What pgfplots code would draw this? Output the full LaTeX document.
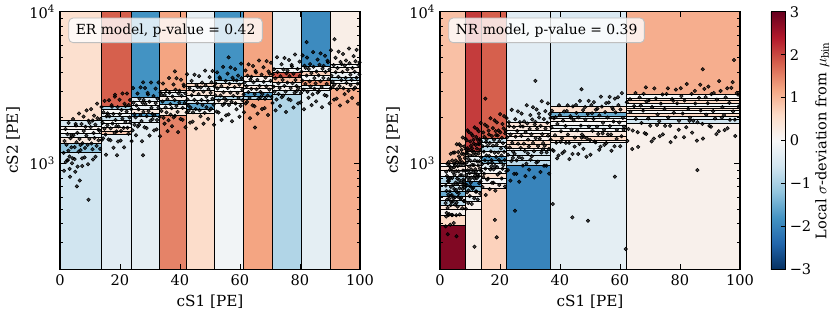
\documentclass[border=0pt]{standalone}
\usepackage{fontspec}
\setmainfont{DejaVu Serif}
\usepackage{pgfplots}
\usepackage{pgfplotstable}
\pgfplotsset{compat=1.18}

\pgfplotsset{
 colormap={rdbu}{rgb255=(5,48,97) rgb255=(33,102,172) rgb255=(67,147,195) rgb255=(146,197,222) rgb255=(209,229,240) rgb255=(247,247,247) rgb255=(253,219,199) rgb255=(244,165,130) rgb255=(214,96,77) rgb255=(178,24,43) rgb255=(103,0,31)},
 binrect/.style={patch, patch type=rectangle, shader=faceted, faceted color=black, line width=0.5pt, point meta=explicit, forget plot},
 pts/.style={only marks, mark=*, mark size=1.25pt, mark options={draw=none, fill=black, fill opacity=0.7}, forget plot},
}

\newcommand\drawrects[1]{%
 \pgfplotstablegetrowsof{#1}%
 \pgfmathtruncatemacro\nrows{\pgfplotsretval-1}%
 \pgfplotsforeachungrouped \i in {0,...,\nrows}{%
   \pgfplotstablegetelem{\i}{x0}\of#1\let\xa\pgfplotsretval
   \pgfplotstablegetelem{\i}{x1}\of#1\let\xb\pgfplotsretval
   \pgfplotstablegetelem{\i}{y0}\of#1\let\ya\pgfplotsretval
   \pgfplotstablegetelem{\i}{y1}\of#1\let\yb\pgfplotsretval
   \pgfplotstablegetelem{\i}{c}\of#1\let\cc\pgfplotsretval
   \edef\temp{\noexpand\addplot[binrect] coordinates {(\xa,\ya) [\cc] (\xb,\ya) [\cc] (\xb,\yb) [\cc] (\xa,\yb) [\cc]};}%
   \temp
 }%
}

% ER bins: x0 x1 y0 y1 deviation
\pgfplotstableread{
x0 x1 y0 y1 c
0 13.7 200 1182 -0.6
0 13.7 1182 1355 -1.2
0 13.7 1355 1484 0.3
0 13.7 1484 1577 -0.3
0 13.7 1577 1684 0.0
0 13.7 1684 1762 0.1
0 13.7 1762 1910 -0.5
0 13.7 1910 10000 0.5
13.7 23.7 200 1553 -0.35
13.7 23.7 1553 1634 0.8
13.7 23.7 1634 1717 0.4
13.7 23.7 1717 1836 -0.1
13.7 23.7 1836 1930 0.0
13.7 23.7 1930 2030 -0.7
13.7 23.7 2030 2137 -0.2
13.7 23.7 2137 2281 0.0
13.7 23.7 2281 2363 -1.0
13.7 23.7 2363 10000 1.8
23.7 33.2 200 1873 -0.3
23.7 33.2 1873 2030 -0.4
23.7 33.2 2030 2137 -1.7
23.7 33.2 2137 2281 0.3
23.7 33.2 2281 2424 -0.2
23.7 33.2 2424 2549 0.0
23.7 33.2 2549 2709 -0.4
23.7 33.2 2709 10000 -1.8
33.2 42.2 200 2083 1.5
33.2 42.2 2083 2306 0.3
33.2 42.2 2306 2462 -0.1
33.2 42.2 2462 2588 -1.6
33.2 42.2 2588 2750 0.2
33.2 42.2 2750 2922 -0.2
33.2 42.2 2922 3045 0.1
33.2 42.2 3045 10000 1.2
42.2 51.6 200 2137 0.55
42.2 51.6 2137 2271 0.0
42.2 51.6 2271 2488 -1.6
42.2 51.6 2488 2616 -0.5
42.2 51.6 2616 2822 0.0
42.2 51.6 2822 3045 0.4
42.2 51.6 3045 3201 -0.1
42.2 51.6 3201 3371 0.6
42.2 51.6 3371 10000 -0.25
51.6 61.1 200 2488 -0.1
51.6 61.1 2488 2644 0.2
51.6 61.1 2644 2750 -0.9
51.6 61.1 2750 2967 0.4
51.6 61.1 2967 3172 0.0
51.6 61.1 3172 3371 0.5
51.6 61.1 3371 3544 -0.5
51.6 61.1 3544 10000 -1.8
61.1 70.8 200 2644 1.2
61.1 70.8 2644 2750 -0.9
61.1 70.8 2750 2922 -1.7
61.1 70.8 2922 3124 0.0
61.1 70.8 3124 3285 0.3
61.1 70.8 3285 3453 -0.2
61.1 70.8 3453 3727 0.1
61.1 70.8 3727 10000 1.2
70.8 80.4 200 2865 -0.9
70.8 80.4 2865 3045 -0.5
70.8 80.4 3045 3236 0.1
70.8 80.4 3236 3438 -0.1
70.8 80.4 3438 3710 0.9
70.8 80.4 3710 4002 1.9
70.8 80.4 4002 4252 0.0
70.8 80.4 4252 10000 -0.3
80.4 90 200 3013 -0.3
80.4 90 3013 3124 0.0
80.4 90 3124 3285 -0.3
80.4 90 3285 3544 1.3
80.4 90 3544 3823 0.0
80.4 90 3823 4020 0.7
80.4 90 4020 4337 -0.1
80.4 90 4337 10000 -1.9
90 100 200 3124 1.1
90 100 3124 3386 0.3
90 100 3386 3544 -0.1
90 100 3544 3710 -0.9
90 100 3710 4002 -0.2
90 100 4002 4318 0.2
90 100 4318 4519 0.0
90 100 4519 10000 0.2
}\rectsER

% NR bins: x0 x1 y0 y1 deviation
\pgfplotstableread{
x0 x1 y0 y1 c
0 8.6 200 392 2.8
0 8.6 392 456 0.6
0 8.6 456 497 0.1
0 8.6 497 531 0.4
0 8.6 531 573 -0.8
0 8.6 573 602 0.0
0 8.6 602 650 -1.5
0 8.6 650 719 -0.7
0 8.6 719 738 0.0
0 8.6 738 816 -0.9
0 8.6 816 894 0.0
0 8.6 894 960 0.3
0 8.6 960 1003 0.0
0 8.6 1003 10000 0.9
8.6 13.9 200 497 0.2
8.6 13.9 497 558 0.1
8.6 13.9 558 602 -0.3
8.6 13.9 602 650 0.2
8.6 13.9 650 701 -1.2
8.6 13.9 701 756 -1.9
8.6 13.9 756 816 -0.5
8.6 13.9 816 859 0.0
8.6 13.9 859 903 -0.3
8.6 13.9 903 975 0.3
8.6 13.9 975 1025 0.0
8.6 13.9 1025 1105 -0.2
8.6 13.9 1105 1200 0.5
8.6 13.9 1200 10000 2.1
13.9 22 200 684 0.7
13.9 22 684 738 0.2
13.9 22 738 796 0.0
13.9 22 796 859 0.5
13.9 22 859 927 0.0
13.9 22 927 1000 -0.4
13.9 22 1000 1051 -1.3
13.9 22 1051 1105 -1.8
13.9 22 1105 1193 0.0
13.9 22 1193 1287 -0.8
13.9 22 1287 1367 0.0
13.9 22 1367 1469 -0.7
13.9 22 1469 10000 1.8
22 36.7 200 975 -2.0
22 36.7 975 1050 -0.8
22 36.7 1050 1134 -0.5
22 36.7 1134 1224 -0.6
22 36.7 1224 1256 0.0
22 36.7 1256 1341 0.5
22 36.7 1341 1425 0.6
22 36.7 1425 1498 0.1
22 36.7 1498 1577 0.3
22 36.7 1577 1658 0.0
22 36.7 1658 1744 0.3
22 36.7 1744 1864 0.4
22 36.7 1864 10000 -0.35
36.7 62 200 1367 -0.3
36.7 62 1367 1425 0.2
36.7 62 1425 1498 0.6
36.7 62 1498 1616 0.3
36.7 62 1616 1702 0.0
36.7 62 1702 1789 -0.3
36.7 62 1789 1881 0.0
36.7 62 1881 1981 0.1
36.7 62 1981 2051 -0.6
36.7 62 2051 2157 -1.5
36.7 62 2157 2363 0.5
36.7 62 2363 10000 -0.45
62 100 200 1836 0.15
62 100 1836 1951 -0.6
62 100 1951 2051 -0.3
62 100 2051 2137 0.6
62 100 2137 2223 0.0
62 100 2223 2306 0.5
62 100 2306 2388 0.2
62 100 2388 2488 -0.1
62 100 2488 2588 0.6
62 100 2588 2685 0.3
62 100 2685 2852 0.0
62 100 2852 10000 1.1
}\rectsNR

\begin{document}
\begin{tikzpicture}
\begin{axis}[at={(0pt,0pt)}, anchor=south west,
  width=216pt, height=185.47pt, scale only axis,
  xmin=0, xmax=100, ymin=200, ymax=10000, ymode=log,
  xtick={0,20,40,60,80,100}, xticklabels={0,20,40,60,80,100}, minor x tick num=0,
  ytick={1000,10000}, yticklabels={10\textsuperscript{3},10\textsuperscript{4}},
  minor ytick={200,300,400,500,600,700,800,900,2000,3000,4000,5000,6000,7000,8000,9000},
  tick align=inside, major tick length=4pt, minor tick length=2.2pt,
  point meta min=-3, point meta max=3,
  axis line style={line width=0.8pt},
  every tick/.style={line width=0.6pt, black},
  xlabel={cS1 [PE]}, ylabel={cS2 [PE]},
  label style={font=\fontsize{11}{13}\selectfont},
  tick label style={font=\fontsize{10.5}{12}\selectfont},
  axis on top]
\drawrects{\rectsER}
\addplot[pts] coordinates {
(1.2,1173) (1.5,1403) (1.9,1020) (2.2,1326) (2.5,1556) (2.8,1211) (3.2,1109) (3.5,1466) (3.8,1275)
(4.2,1079) (4.5,1534) (4.9,1278) (5.2,1818) (5.5,1377) (5.8,1590) (6.2,1193) (6.5,1448) (6.8,1321)
(7.2,1817) (7.5,1355) (7.9,1632) (8.2,1093) (8.5,1740) (8.8,1525) (9.2,1324) (9.5,1910) (9.8,1448)
(10.2,1733) (10.5,1353) (10.9,1914) (11.2,1584) (11.5,1469) (11.8,1799) (12.2,1304) (12.5,1980) (12.8,1667)
(13.2,1638) (13.5,1958) (13.9,1424) (14.2,1851) (14.5,2172) (14.8,1691) (15.2,1549) (15.5,2047) (15.8,1780)
(16.2,1436) (16.5,2041) (16.9,1701) (17.2,2419) (17.5,1833) (17.8,2117) (18.2,1588) (18.5,1928) (18.8,1758)
(19.2,2348) (19.5,1751) (19.9,2109) (20.2,1413) (20.5,2249) (20.8,1970) (21.2,1711) (21.5,2468) (21.8,1871)
(22.2,2195) (22.5,1714) (22.9,2424) (23.2,2006) (23.5,1860) (23.8,2278) (24.2,1651) (24.5,2508) (24.8,2111)
(25.2,2010) (25.5,2404) (25.9,1748) (26.2,2272) (26.5,2666) (26.8,2076) (27.2,1901) (27.5,2513) (27.8,2185)
(28.2,1729) (28.5,2457) (28.9,2048) (29.2,2912) (29.5,2207) (29.8,2548) (30.2,1911) (30.5,2321) (30.8,2116)
(31.2,2779) (31.5,2072) (31.9,2496) (32.2,1672) (32.5,2661) (32.8,2331) (33.2,2025) (33.5,2920) (33.8,2214)
(34.2,2557) (34.5,1997) (34.9,2825) (35.2,2338) (35.5,2167) (35.8,2654) (36.2,1924) (36.5,2922) (36.8,2459)
(37.2,2309) (37.5,2761) (37.9,2008) (38.2,2610) (38.5,3062) (38.8,2385) (39.2,2184) (39.5,2887) (39.8,2510)
(40.2,1961) (40.5,2786) (40.9,2322) (41.2,3302) (41.5,2503) (41.8,2890) (42.2,2167) (42.5,2632) (42.8,2399)
(43.2,3127) (43.5,2332) (43.9,2809) (44.2,1882) (44.5,2995) (44.8,2624) (45.2,2279) (45.5,3286) (45.8,2491)
(46.2,2861) (46.5,2235) (46.9,3161) (47.2,2616) (47.5,2425) (47.8,2970) (48.2,2153) (48.5,3270) (48.8,2752)
(49.2,2581) (49.5,3086) (49.9,2244) (50.2,2917) (50.5,3422) (50.8,2665) (51.2,2440) (51.5,3226) (51.8,2805)
(52.2,2193) (52.5,3116) (52.9,2597) (53.2,3693) (53.5,2798) (53.8,3231) (54.2,2423) (54.5,2943) (54.8,2683)
(55.2,3493) (55.5,2605) (55.9,3138) (56.2,2102) (56.5,3345) (56.8,2930) (57.2,2546) (57.5,3670) (57.8,2782)
(58.2,3182) (58.5,2485) (58.9,3515) (59.2,2909) (59.5,2697) (59.8,3303) (60.2,2394) (60.5,3636) (60.8,3060)
(61.2,2852) (61.5,3410) (61.9,2480) (62.2,3224) (62.5,3782) (62.8,2945) (63.2,2697) (63.5,3565) (63.8,3100)
(64.2,2413) (64.5,3429) (64.9,2858) (65.2,4064) (65.5,3080) (65.8,3556) (66.2,2667) (66.5,3239) (66.8,2953)
(67.2,3841) (67.5,2864) (67.9,3450) (68.2,2311) (68.5,3678) (68.8,3222) (69.2,2799) (69.5,4036) (69.8,3060)
(70.2,3502) (70.5,2735) (70.9,3869) (71.2,3202) (71.5,2968) (71.8,3635) (72.2,2635) (72.5,4002) (72.8,3368)
(73.2,3137) (73.5,3751) (73.9,2728) (74.2,3546) (74.5,4160) (74.8,3240) (75.2,2967) (75.5,3922) (75.8,3410)
(76.2,2645) (76.5,3758) (76.9,3132) (77.2,4454) (77.5,3376) (77.8,3898) (78.2,2923) (78.5,3550) (78.8,3236)
(79.2,4189) (79.5,3124) (79.9,3763) (80.2,2521) (80.5,4012) (80.8,3515) (81.2,3053) (81.5,4402) (81.8,3337)
(82.2,3791) (82.5,2960) (82.9,4188) (83.2,3466) (83.5,3213) (83.8,3935) (84.2,2852) (84.5,4332) (84.8,3646)
(85.2,3367) (85.5,4026) (85.9,2928) (86.2,3806) (86.5,4465) (86.8,3477) (87.2,3184) (87.5,4209) (87.8,3660)
(88.2,2820) (88.5,4007) (88.9,3339) (89.2,4749) (89.5,3599) (89.8,4155) (90.2,3116) (90.5,3784) (90.8,3450)
(91.2,4437) (91.5,3309) (91.9,3986) (92.2,2670) (92.5,4249) (92.8,3722) (93.2,3234) (93.5,4662) (93.8,3534)
(94.2,4001) (94.5,3124) (94.9,4420) (95.2,3658) (95.5,3391) (95.8,4153) (96.2,3010) (96.5,4572) (96.8,3848)
(97.2,3551) (97.5,4246) (97.9,3088) (98.2,4014) (98.5,4709) (98.8,3667) (99.2,3358) (99.5,4439) (99.8,3860)
(1.35,893) (1.85,1683) (2.35,1046) (2.85,1849) (3.35,816) (3.85,1530)
(4.35,1960) (4.85,1065) (5.35,1775) (5.85,951) (6.35,2130) (6.85,1221)
(7.35,1078) (7.85,2033) (8.35,1263) (8.85,2233) (9.35,986) (9.85,1848)
(10.35,2277) (10.85,1238) (11.35,2063) (11.85,1106) (12.35,2475) (12.85,1419)
(13.35,1246) (13.85,2350) (14.35,1460) (14.85,2581) (15.35,1139) (15.85,2136)
(16.35,2608) (16.85,1418) (17.35,2363) (17.85,1266) (18.35,2835) (18.85,1625)
(19.35,1393) (19.85,2627) (20.35,1632) (20.85,2886) (21.35,1274) (21.85,2388)
(22.35,2884) (22.85,1568) (23.35,2613) (23.85,1400) (24.35,3135) (24.85,1797)
(25.35,1530) (25.85,2884) (26.35,1792) (26.85,3168) (27.35,1398) (27.85,2622)
(28.35,3140) (28.85,1706) (29.35,2844) (29.85,1524) (30.35,3413) (30.85,1957)
(31.35,1649) (31.85,3109) (32.35,1931) (32.85,3415) (33.35,1507) (33.85,2826)
(34.35,3360) (34.85,1826) (35.35,3044) (35.85,1631) (36.35,3653) (36.85,2094)
(37.35,1757) (37.85,3313) (38.35,2058) (38.85,3640) (39.35,1606) (39.85,3012)
(40.35,3560) (40.85,1935) (41.35,3225) (41.85,1729) (42.35,3870) (42.85,2219)
(43.35,1855) (43.85,3498) (44.35,2173) (44.85,3843) (45.35,1696) (45.85,3180)
(46.35,3761) (46.85,2044) (47.35,3406) (47.85,1826) (48.35,4088) (48.85,2344)
(49.35,1964) (49.85,3703) (50.35,2300) (50.85,4067) (51.35,1795) (51.85,3366)
(52.35,3981) (52.85,2164) (53.35,3606) (53.85,1933) (54.35,4328) (54.85,2481)
(55.35,2072) (55.85,3907) (56.35,2427) (56.85,4292) (57.35,1894) (57.85,3552)
(58.35,4181) (58.85,2273) (59.35,3788) (59.85,2030) (60.35,4545) (60.85,2606)
(61.35,2170) (61.85,4092) (62.35,2542) (62.85,4495) (63.35,1984) (63.85,3720)
(64.35,4382) (64.85,2381) (65.35,3969) (65.85,2127) (66.35,4763) (66.85,2731)
(67.35,2279) (67.85,4297) (68.35,2669) (68.85,4720) (69.35,2083) (69.85,3906)
(70.35,4602) (70.85,2501) (71.35,4169) (71.85,2234) (72.35,5003) (72.85,2868)
(73.35,2387) (73.85,4501) (74.35,2796) (74.85,4945) (75.35,2182) (75.85,4092)
(76.35,4802) (76.85,2610) (77.35,4350) (77.85,2332) (78.35,5220) (78.85,2993)
(79.35,2485) (79.85,4686) (80.35,2911) (80.85,5148) (81.35,2272) (81.85,4260)
(82.35,4982) (82.85,2708) (83.35,4513) (83.85,2419) (84.35,5415) (84.85,3105)
(85.35,2562) (85.85,4831) (86.35,3001) (86.85,5307) (87.35,2342) (87.85,4392)
(88.35,5120) (88.85,2783) (89.35,4638) (89.85,2486) (90.35,5565) (90.85,3191)
(91.35,2632) (91.85,4963) (92.35,3083) (92.85,5452) (93.35,2406) (93.85,4512)
(94.35,5258) (94.85,2858) (95.35,4763) (95.85,2553) (96.35,5715) (96.85,3277)
(97.35,2702) (97.85,5095) (98.35,3165) (98.85,5597) (99.35,2470) (99.85,4632)
(9.5,575) (3.2,920) (5.1,880) (6.6,770) (5.6,705) (27.7,1130) (19.0,1130) (82.2,6300) (91.5,6580)
(56.2,5000) (27.7,3420) (38.3,4040) (65.0,1720) (18.3,2750) (2.6,1050) (4.0,1000) (7.4,960) (11.0,1060)
};
\node[anchor=north west, draw=gray!50, rounded corners=3pt, fill=white, fill opacity=0.8, text opacity=1, inner xsep=5pt, inner ysep=4pt, line width=0.6pt, font=\fontsize{10}{12}\selectfont] at (rel axis cs:0.028,0.977) {ER model, p-value = 0.42};
\end{axis}

\begin{axis}[at={(273.6pt,0pt)}, anchor=south west,
  width=216pt, height=185.47pt, scale only axis,
  xmin=0, xmax=100, ymin=200, ymax=10000, ymode=log,
  xtick={0,20,40,60,80,100}, xticklabels={0,20,40,60,80,100}, minor x tick num=0,
  ytick={1000,10000}, yticklabels={10\textsuperscript{3},10\textsuperscript{4}},
  minor ytick={200,300,400,500,600,700,800,900,2000,3000,4000,5000,6000,7000,8000,9000},
  tick align=inside, major tick length=4pt, minor tick length=2.2pt,
  point meta min=-3, point meta max=3,
  axis line style={line width=0.8pt},
  every tick/.style={line width=0.6pt, black},
  xlabel={cS1 [PE]}, ylabel={cS2 [PE]},
  label style={font=\fontsize{11}{13}\selectfont},
  tick label style={font=\fontsize{10.5}{12}\selectfont},
  axis on top,
  colorbar,
  colorbar style={at={(parent axis.north east)}, anchor=north west, xshift=13.68pt, width=10.08pt,
    ytick={-3,-2,-1,0,1,2,3}, yticklabels={−3,−2,−1,0,1,2,3},
    ytick pos=right,
    major tick length=3pt,
    ylabel={Local $\sigma$-deviation from $\mu_{\mathrm{bin}}$},
    ylabel style={font=\fontsize{10.5}{12}\selectfont},
    ylabel shift=-4pt},
]
\drawrects{\rectsNR}
\addplot[pts] coordinates {
(1.85,546) (1.95,713) (2.07,446) (2.18,657) (2.3,825) (2.41,577) (2.52,508) (2.64,763) (2.75,620)
(2.85,456) (2.95,762) (3.07,585) (3.18,959) (3.3,653) (3.41,796) (3.52,530) (3.64,700) (3.75,612)
(3.85,926) (3.95,617) (4.07,801) (4.18,456) (4.3,875) (4.41,720) (4.52,588) (4.64,1000) (4.75,676)
(4.85,840) (4.95,597) (5.07,966) (5.18,746) (5.3,667) (5.41,887) (5.52,550) (5.64,1013) (5.75,793)
(5.85,735) (5.95,960) (6.07,601) (6.18,885) (6.3,1111) (6.41,777) (6.52,685) (6.64,1027) (6.75,835)
(6.85,583) (6.95,974) (7.07,748) (7.18,1227) (7.3,835) (7.41,1018) (7.52,679) (7.64,896) (7.75,783)
(7.85,1147) (7.95,764) (8.07,992) (8.18,564) (8.3,1083) (8.41,892) (8.52,728) (8.64,1238) (8.75,837)
(8.85,1011) (8.95,718) (9.07,1162) (9.18,898) (9.3,803) (9.41,1068) (9.52,662) (9.64,1219) (9.75,954)
(9.85,862) (9.95,1127) (10.07,706) (10.18,1039) (10.3,1303) (10.41,911) (10.52,804) (10.64,1205) (10.75,980)
(10.85,680) (10.95,1137) (11.07,873) (11.18,1431) (11.3,974) (11.41,1188) (11.52,792) (11.64,1045) (11.75,914)
(11.85,1323) (11.95,882) (12.07,1145) (12.18,651) (12.3,1250) (12.41,1029) (12.52,840) (12.64,1428) (12.75,966)
(12.85,1161) (12.95,825) (13.07,1335) (13.18,1031) (13.3,922) (13.41,1226) (13.52,760) (13.64,1400) (13.75,1096)
(14.08,990) (14.24,1294) (14.43,810) (14.61,1193) (14.8,1496) (14.98,1046) (15.15,923) (15.34,1384) (15.52,1125)
(15.68,781) (15.84,1305) (16.03,1002) (16.21,1643) (16.4,1118) (16.58,1363) (16.75,909) (16.94,1200) (17.12,1049)
(17.28,1512) (17.44,1008) (17.63,1308) (17.81,744) (18.0,1428) (18.18,1176) (18.35,960) (18.54,1632) (18.72,1104)
(18.88,1327) (19.04,942) (19.23,1525) (19.41,1178) (19.6,1054) (19.78,1401) (19.95,868) (20.14,1600) (20.32,1252)
(20.48,1126) (20.64,1472) (20.83,922) (21.01,1357) (21.2,1702) (21.38,1190) (21.55,1050) (21.74,1574) (21.92,1280)
(22.12,888) (22.38,1484) (22.68,1140) (22.95,1868) (23.25,1272) (23.52,1550) (23.8,1034) (24.1,1365) (24.38,1193)
(24.62,1733) (24.88,1155) (25.18,1499) (25.45,853) (25.75,1636) (26.02,1348) (26.3,1100) (26.6,1870) (26.88,1265)
(27.12,1519) (27.38,1079) (27.68,1747) (27.95,1349) (28.25,1207) (28.52,1605) (28.8,994) (29.1,1832) (29.38,1434)
(29.62,1289) (29.88,1685) (30.18,1055) (30.45,1553) (30.75,1948) (31.02,1362) (31.3,1201) (31.6,1802) (31.88,1465)
(32.12,1012) (32.38,1691) (32.68,1299) (32.95,2129) (33.25,1450) (33.52,1767) (33.8,1178) (34.1,1555) (34.38,1359)
(34.62,1959) (34.88,1306) (35.18,1695) (35.45,964) (35.75,1850) (36.02,1524) (36.3,1244) (36.6,2115) (36.88,1431)
(37.17,1723) (37.53,1224) (37.95,1980) (38.33,1530) (38.75,1369) (39.13,1819) (39.52,1127) (39.94,2077) (40.33,1626)
(40.67,1465) (41.03,1915) (41.45,1199) (41.83,1765) (42.25,2214) (42.63,1548) (43.02,1365) (43.44,2048) (43.83,1665)
(44.17,1152) (44.53,1926) (44.95,1479) (45.33,2425) (45.75,1651) (46.13,2012) (46.52,1342) (46.94,1772) (47.33,1548)
(47.67,2243) (48.03,1495) (48.45,1940) (48.83,1104) (49.25,2118) (49.63,1744) (50.02,1424) (50.44,2421) (50.83,1638)
(51.17,1963) (51.53,1395) (51.95,2257) (52.33,1743) (52.75,1560) (53.13,2074) (53.52,1285) (53.94,2367) (54.33,1853)
(54.67,1663) (55.03,2174) (55.45,1361) (55.83,2003) (56.25,2514) (56.63,1758) (57.02,1550) (57.44,2325) (57.83,1890)
(58.17,1296) (58.53,2167) (58.95,1664) (59.33,2728) (59.75,1858) (60.13,2264) (60.52,1509) (60.94,1993) (61.33,1742)
(62.27,2526) (62.81,1684) (63.46,2185) (64.05,1243) (64.7,2386) (65.29,1965) (65.89,1604) (66.54,2727) (67.13,1845)
(67.67,2226) (68.21,1581) (68.86,2558) (69.45,1976) (70.1,1768) (70.69,2350) (71.29,1456) (71.94,2683) (72.53,2101)
(73.07,1896) (73.61,2478) (74.26,1552) (74.85,2284) (75.5,2866) (76.09,2004) (76.69,1767) (77.34,2651) (77.93,2155)
(78.47,1487) (79.01,2486) (79.66,1909) (80.25,3130) (80.9,2131) (81.49,2597) (82.09,1732) (82.74,2287) (83.33,1998)
(83.87,2867) (84.41,1911) (85.06,2480) (85.65,1411) (86.3,2707) (86.89,2230) (87.49,1820) (88.14,3094) (88.73,2093)
(89.27,2488) (89.81,1767) (90.46,2860) (91.05,2209) (91.7,1976) (92.29,2627) (92.89,1628) (93.54,2999) (94.13,2348)
(94.67,2081) (95.21,2720) (95.86,1703) (96.45,2507) (97.1,3145) (97.69,2199) (98.29,1939) (98.94,2909) (99.53,2365)
(1.9,384) (2.07,880) (2.24,471) (2.41,992) (2.58,341) (2.72,794)
(2.9,1020) (3.07,462) (3.24,904) (3.41,394) (3.58,1156) (3.72,558)
(3.9,456) (4.07,1044) (4.24,559) (4.41,1176) (4.58,404) (4.72,941)
(4.9,1178) (5.07,534) (5.24,1044) (5.41,455) (5.58,1335) (5.72,644)
(5.9,518) (6.07,1186) (6.24,635) (6.41,1336) (6.58,459) (6.72,1069)
(6.9,1305) (7.07,592) (7.24,1157) (7.41,505) (7.58,1479) (7.72,713)
(7.9,564) (8.07,1292) (8.24,692) (8.41,1456) (8.58,501) (8.72,1165)
(8.9,1418) (9.07,643) (9.24,1257) (9.41,548) (9.58,1607) (9.72,775)
(9.9,608) (10.07,1392) (10.24,745) (10.41,1568) (10.58,539) (10.72,1254)
(10.9,1523) (11.07,690) (11.24,1350) (11.41,589) (11.58,1726) (11.72,832)
(11.9,651) (12.07,1491) (12.24,798) (12.41,1680) (12.58,578) (12.72,1344)
(12.9,1628) (13.07,738) (13.24,1443) (13.41,629) (13.58,1845) (13.72,890)
(14.15,698) (14.42,1598) (14.7,855) (14.97,1800) (15.25,619) (15.5,1440)
(15.75,1748) (16.02,792) (16.3,1549) (16.57,676) (16.85,1981) (17.1,955)
(17.35,744) (17.62,1704) (17.9,912) (18.17,1920) (18.45,660) (18.7,1536)
(18.95,1860) (19.22,843) (19.5,1649) (19.77,719) (20.05,2108) (20.3,1017)
(20.55,794) (20.82,1818) (21.1,973) (21.37,2048) (21.65,704) (21.9,1638)
(22.2,1988) (22.62,901) (23.05,1762) (23.47,769) (23.9,2253) (24.3,1087)
(24.7,853) (25.12,1953) (25.55,1045) (25.97,2200) (26.4,756) (26.8,1760)
(27.2,2130) (27.62,966) (28.05,1889) (28.47,824) (28.9,2414) (29.3,1164)
(29.7,908) (30.12,2080) (30.55,1113) (30.97,2344) (31.4,806) (31.8,1875)
(32.2,2265) (32.62,1027) (33.05,2008) (33.47,876) (33.9,2567) (34.3,1238)
(34.7,964) (35.12,2208) (35.55,1182) (35.97,2488) (36.4,855) (36.8,1990)
(37.3,2222) (37.88,1208) (38.47,2013) (39.05,1079) (39.63,2415) (40.2,1385)
(40.8,1166) (41.38,2198) (41.97,1365) (42.55,2414) (43.13,1066) (43.7,1998)
(44.3,2374) (44.88,1290) (45.47,2150) (46.05,1152) (46.63,2580) (47.2,1479)
(47.8,1246) (48.38,2350) (48.97,1460) (49.55,2581) (50.13,1139) (50.7,2136)
(51.3,2532) (51.88,1376) (52.47,2294) (53.05,1229) (53.63,2753) (54.2,1578)
(54.8,1323) (55.38,2495) (55.97,1550) (56.55,2741) (57.13,1210) (57.7,2268)
(58.3,2670) (58.88,1451) (59.47,2419) (60.05,1296) (60.63,2903) (61.2,1664)
(62.45,1404) (63.35,2647) (64.25,1644) (65.15,2907) (66.05,1283) (66.95,2406)
(67.85,2870) (68.75,1560) (69.65,2600) (70.55,1394) (71.45,3120) (72.35,1789)
(73.25,1509) (74.15,2845) (75.05,1767) (75.95,3125) (76.85,1379) (77.75,2586)
(78.65,3064) (79.55,1665) (80.45,2775) (81.35,1487) (82.25,3330) (83.15,1909)
(84.05,1593) (84.95,3003) (85.85,1866) (86.75,3299) (87.65,1456) (88.55,2730)
(89.45,3209) (90.35,1744) (91.25,2906) (92.15,1558) (93.05,3488) (93.95,2000)
(94.85,1656) (95.75,3122) (96.65,1939) (97.55,3429) (98.45,1514) (99.35,2838)
(25.0,487) (37.6,539) (44.1,440) (49.3,418) (58.3,816) (61.9,272) (85.8,903) (18.9,325) (18.3,423)
(11.5,282) (5.5,330) (98.0,4800) (87.6,4170) (31.8,3500) (15.1,2670) (47.2,3080) (68.6,3170) (9.2,1650)
};
\node[anchor=north west, draw=gray!50, rounded corners=3pt, fill=white, fill opacity=0.8, text opacity=1, inner xsep=5pt, inner ysep=4pt, line width=0.6pt, font=\fontsize{10}{12}\selectfont] at (rel axis cs:0.028,0.977) {NR model, p-value = 0.39};
\end{axis}
\pgfresetboundingbox
\path[use as bounding box] (-43.2pt,-35.06pt) rectangle (554.4pt,193.9pt);
\end{tikzpicture}
\end{document}
